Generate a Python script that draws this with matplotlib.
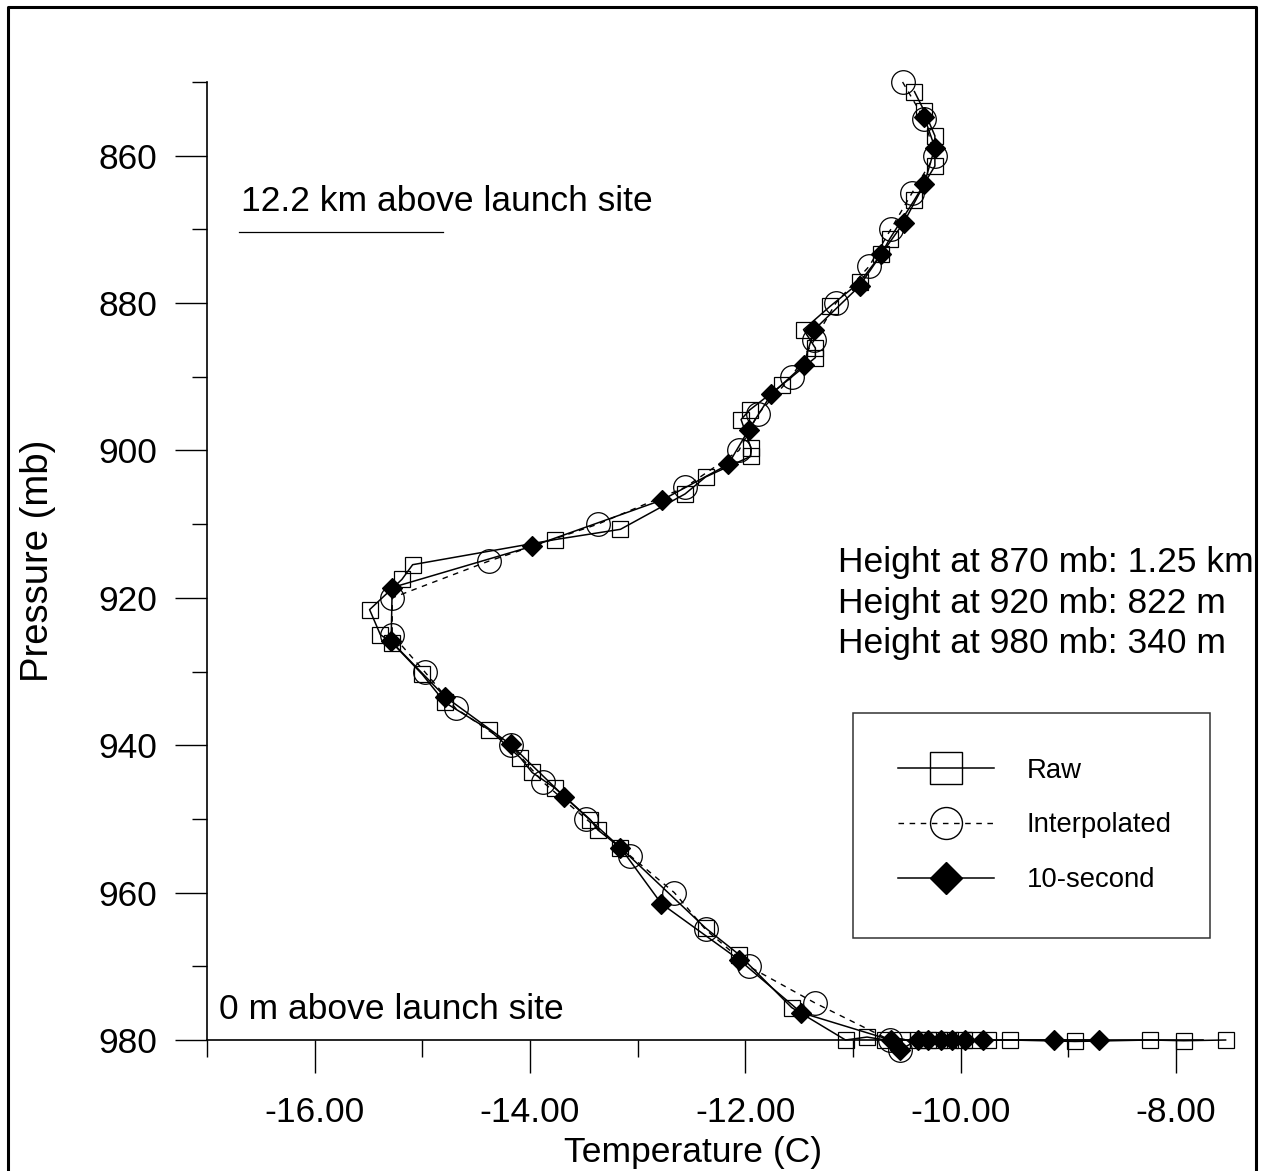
import numpy as np
import matplotlib
matplotlib.use("Agg")
import matplotlib.pyplot as plt
from matplotlib.lines import Line2D
from matplotlib.ticker import MultipleLocator, FormatStrFormatter

plt.rcParams['font.family'] = ['Liberation Sans', 'DejaVu Sans']

# raw sonde readings (temperature C, pressure mb)
raw_t = [-10.43, -10.34, -10.24, -10.24, -10.43, -10.66, -10.74, -10.94, -11.21, -11.46,
         -11.35, -11.35, -11.66, -11.96, -12.04, -11.95, -11.95, -12.37, -12.56, -13.16,
         -13.77, -15.09, -15.19, -15.49, -15.39, -15.28, -15.00, -14.79, -14.38, -14.09,
         -13.98, -13.77, -13.44, -13.37, -13.16, -12.37, -12.06, -11.57, -11.07, -10.87,
         -10.70, -10.55, -10.40, -10.30, -10.20, -10.10, -9.97, -9.87, -9.75, -9.54,
         -8.94, -8.24, -7.93, -7.54]
raw_p = [851.3, 853.9, 857.3, 861.4, 866.0, 871.3, 873.4, 877.2, 880.4, 883.6,
         886.1, 887.4, 891.1, 894.5, 895.8, 899.6, 900.8, 903.6, 905.9, 910.7,
         912.1, 915.5, 917.5, 921.6, 925.0, 926.1, 930.4, 934.2, 937.9, 941.7,
         943.7, 945.8, 950.1, 951.5, 953.9, 964.8, 968.4, 975.6, 980.0, 979.6,
         980.0, 980.0, 980.0, 980.0, 980.0, 980.0, 980.0, 980.0, 980.0, 980.0,
         980.2, 980.0, 980.1, 980.0]

# interpolated to 5 mb levels
interp_t = [-10.54, -10.34, -10.24, -10.45, -10.65, -10.85, -11.16, -11.36, -11.57, -11.88,
            -12.06, -12.56, -13.37, -14.38, -15.28, -15.28, -14.98, -14.69, -14.18, -13.88,
            -13.48, -13.07, -12.66, -12.37, -11.97, -11.35, -10.66, -10.56]
interp_p = [850, 855, 860, 865, 870, 875, 880, 885, 890, 895,
            900, 905, 910, 915, 920, 925, 930, 935, 940, 945,
            950, 955, 960, 965, 970, 975, 980, 981.3]

# 10-second averages
ten_t = [-10.34, -10.24, -10.34, -10.53, -10.74, -10.94, -11.36, -11.46, -11.76, -11.97,
         -12.16, -12.77, -13.98, -15.28, -15.29, -14.79, -14.18, -13.68, -13.16, -12.78,
         -12.06, -11.48, -10.65, -10.56, -10.40, -10.30, -10.18, -10.08, -9.96, -9.79,
         -9.13, -8.72]
ten_p = [854.7, 858.9, 863.9, 869.1, 873.4, 877.7, 883.6, 888.4, 892.4, 897.2,
         901.9, 906.7, 913.0, 918.6, 925.9, 933.4, 939.9, 947.0, 953.9, 961.5,
         969.1, 976.3, 980.0, 981.3, 980.0, 980.0, 980.0, 980.0, 980.0, 980.0,
         980.0, 980.0]

heights = ["Height at 870 mb: 1.25 km",
           "Height at 920 mb: 822 m",
           "Height at 980 mb: 340 m"]

W, H = 1267, 1171
fig = plt.figure(figsize=(W / 100, H / 100), dpi=100)
ax = fig.add_axes([207 / W, (H - 1040) / H, (1203 - 207) / W, (1040 - 82) / H])

ax.plot(raw_t, raw_p, color='black', lw=1.1, marker='s', ms=12.2, mfc='none',
        mec='black', mew=0.9, clip_on=False, zorder=3)
ax.plot(interp_t, interp_p, color='black', lw=1.0, ls=(0, (4, 4)), marker='o', ms=17,
        mfc='none', mec='black', mew=0.9, clip_on=False, zorder=3)
ax.plot(ten_t, ten_p, color='black', lw=1.1, marker='D', ms=10.4, mfc='black',
        mec='black', mew=0.9, clip_on=False, zorder=4)

ax.set_xlim(-17, -7.75)
ax.set_ylim(980, 850)

for s in ['top', 'right']:
    ax.spines[s].set_visible(False)
for s in ['left', 'bottom']:
    ax.spines[s].set_linewidth(1.2)

ax.xaxis.set_minor_locator(MultipleLocator(1))
ax.xaxis.set_major_formatter(FormatStrFormatter('%.2f'))
ax.yaxis.set_minor_locator(MultipleLocator(10))
ax.set_xticks([-16, -14, -12, -10, -8])
ax.set_yticks([860, 880, 900, 920, 940, 960, 980])

ax.tick_params(axis='x', which='major', length=23.5, width=1.0, pad=17, labelsize=25.5)
ax.tick_params(axis='x', which='minor', length=12, width=1.0)
ax.tick_params(axis='y', which='major', length=23, width=1.0, pad=13, labelsize=25.5)
ax.tick_params(axis='y', which='minor', length=11, width=1.0)

ax.set_xlabel('Temperature (C)', fontsize=25.5)
ax.set_ylabel('Pressure (mb)', fontsize=27.5)
ax.xaxis.set_label_coords(0.488, -0.1)
ax.yaxis.set_label_coords(-0.152, 0.5)

# annotations
ax.text(-16.68, 866.2, '12.2 km above launch site', fontsize=25.5, va='center', ha='left')
ax.plot([-16.70, -14.81], [870.3, 870.3], color='black', lw=0.9)
ax.text(-16.89, 975.9, '0 m above launch site', fontsize=25.5, va='center', ha='left')
for label, p in zip(heights, [915.2, 920.8, 926.2]):
    ax.text(-11.14, p, label, fontsize=25.5, va='center', ha='left', clip_on=False)

handles = [
    Line2D([], [], color='black', lw=1.1, marker='s', ms=23, mfc='none', mec='black', mew=1.0),
    Line2D([], [], color='black', lw=1.0, ls=(0, (4, 4)), marker='o', ms=23, mfc='none',
           mec='black', mew=1.0),
    Line2D([], [], color='black', lw=1.1, marker='D', ms=16.3, mfc='black', mec='black'),
]
leg = ax.legend(handles, ['Raw', 'Interpolated', '10-second'],
                loc='upper left', bbox_to_anchor=(853 / W, (H - 935) / H, 357 / W, 222 / H),
                bbox_transform=fig.transFigure, mode='expand', borderaxespad=0,
                fontsize=19.8, handlelength=3.5, handletextpad=1.2, borderpad=1.62,
                labelspacing=1.05, fancybox=False, frameon=True)
leg.get_frame().set_edgecolor('black')
leg.get_frame().set_linewidth(1.1)

# outer frame
fx = [8 / W, 8 / W, 1256 / W, 1256 / W]
fy = [-0.02, 1 - 7 / H, 1 - 7 / H, -0.02]
fig.add_artist(Line2D(fx, fy, transform=fig.transFigure, color='black', lw=2.2))

fig.savefig('out.png', dpi=100)
